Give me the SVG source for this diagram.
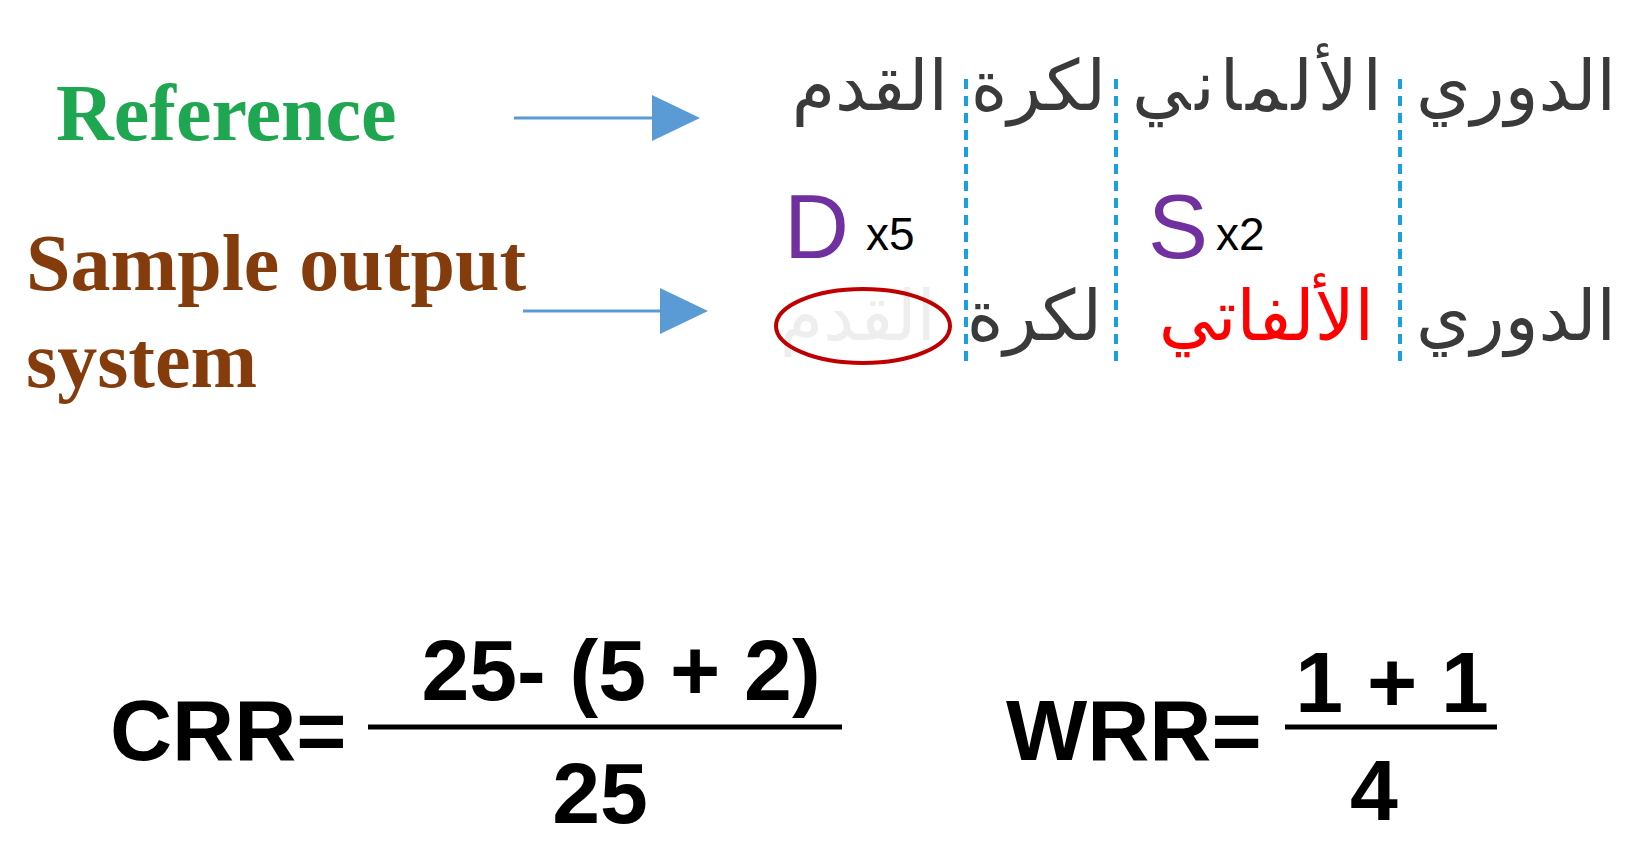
<svg xmlns="http://www.w3.org/2000/svg" width="1651" height="844" viewBox="0 0 1651 844">
<style>
.lbl{font-family:"Liberation Serif",serif;font-weight:bold;font-size:80px}
.ar{font-family:"Noto Sans","DejaVu Sans",sans-serif;font-size:70px;fill:#3a3a3a;text-anchor:end}
.eq{font-family:"Liberation Sans",sans-serif;font-weight:bold;font-size:86px;fill:#000}
.dash{stroke:#1aa0dc;stroke-width:4;stroke-dasharray:10,7}
.arrow{stroke:#5b9bd5;stroke-width:3}
</style>
<rect width="1651" height="844" fill="#fff"/>
<g id="labels">
<text class="lbl" x="56" y="140" fill="#1fa650">Reference</text>
<text class="lbl" x="26" y="290" fill="#843c0c">Sample output</text>
<text class="lbl" x="26" y="387" fill="#843c0c">system</text>
</g>
<g id="connectors">
<line class="arrow" x1="514" y1="118" x2="652" y2="118"/>
<path d="M652,95L700,118L652,141z" fill="#5b9bd5"/>
<line class="arrow" x1="523" y1="311" x2="660" y2="311"/>
<path d="M660,288L708,311L660,334z" fill="#5b9bd5"/>
<line class="dash" x1="966" y1="79" x2="966" y2="363"/>
<line class="dash" x1="1116" y1="79" x2="1116" y2="363"/>
<line class="dash" x1="1400" y1="79" x2="1400" y2="363"/>
</g>
<g id="reference">
<text class="ar" x="1616" y="110">الدوري</text>
<text class="ar" x="1382" y="110" textLength="250" lengthAdjust="spacing">الألماني</text>
<text class="ar" x="1106" y="110">لكرة</text>
<text class="ar" x="948" y="110">القدم</text>
</g>
<g id="errors">
<text x="784" y="258" font-family="Liberation Sans,sans-serif" font-size="90" fill="#7030a0">D</text>
<text x="866" y="250" font-family="Liberation Sans,sans-serif" font-size="46" fill="#000">x5</text>
<text x="1148" y="258" font-family="Liberation Sans,sans-serif" font-size="90" fill="#7030a0">S</text>
<text x="1216" y="250" font-family="Liberation Sans,sans-serif" font-size="46" fill="#000">x2</text>
</g>
<g id="output">
<text class="ar" x="1616" y="340">الدوري</text>
<text class="ar" x="1374" y="340" style="fill:#ff0000">الألفاتي</text>
<text class="ar" x="1102" y="340">لكرة</text>
<text class="ar" x="936" y="340" style="fill:#eeeeee">القدم</text>
<ellipse cx="863" cy="326" rx="87" ry="37" fill="none" stroke="#c00000" stroke-width="4"/>
</g>
<g id="crr">
<text class="eq" x="110" y="760">CRR=</text>
<line x1="368" y1="727" x2="842" y2="727" stroke="#000" stroke-width="5"/>
<text class="eq" x="621" y="700" text-anchor="middle">25- (5 + 2)</text>
<text class="eq" x="600" y="823" text-anchor="middle">25</text>
</g>
<g id="wrr">
<text class="eq" x="1006" y="760">WRR=</text>
<line x1="1285" y1="727" x2="1497" y2="727" stroke="#000" stroke-width="5"/>
<text class="eq" x="1392" y="712" text-anchor="middle">1 + 1</text>
<text class="eq" x="1374" y="820" text-anchor="middle">4</text>
</g>
</svg>
